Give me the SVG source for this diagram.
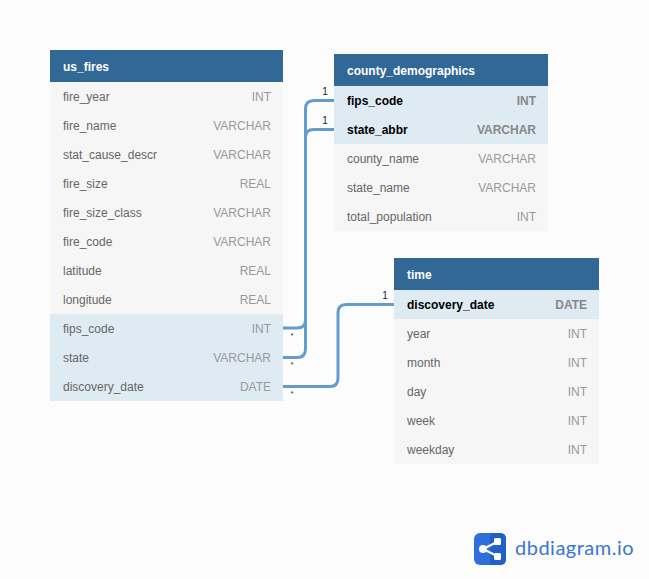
<svg xmlns="http://www.w3.org/2000/svg" width="649" height="579" viewBox="0 0 649 579">
<style>
text{font-family:"Liberation Sans",Arial,sans-serif;font-size:12px}
.hb{fill:#316896}.row{fill:#f6f6f6}.key{fill:#deebf3}
.h{fill:#fff;font-weight:700}
.n{fill:#666}.t{fill:#999;text-anchor:end}
.nk{fill:#000;font-weight:700}.tk{fill:#888;text-anchor:end;font-weight:700}
.c{fill:none;stroke:#629dcd;stroke-width:3}
.m{fill:#222;font-size:10px;text-anchor:middle}
.s{fill:#222;font-size:7px;text-anchor:middle}
</style>
<rect width="649" height="579" fill="#fcfcfd"/>
<g id="connectors">
<path class="c" d="M283 328H297Q305.500 328 305.500 320V109Q305.500 100.500 314 100.500H334"/>
<path class="c" d="M283 357.500H297Q305.500 357.500 305.500 349V137Q305.500 129.500 314 129.500H334"/>
<path class="c" d="M283 386.500H330Q338 386.500 338 378V313Q338 304.500 346 304.500H394"/>
<text class="m" x="325" y="95">1</text><text class="m" x="325" y="124">1</text><text class="m" x="385" y="299">1</text>
<text class="s" x="292" y="338">*</text><text class="s" x="292" y="367">*</text><text class="s" x="292" y="396">*</text>
</g>
<g id="us_fires">
<rect class="row" x="50" y="50" width="233" height="351"/>
<rect class="key" x="50" y="314" width="233" height="87"/>
<rect class="hb" x="50" y="50" width="233" height="32"/>
<text class="h" x="63" y="71">us_fires</text>
<text class="n" x="63" y="101">fire_year</text><text class="t" x="271" y="101">INT</text>
<text class="n" x="63" y="130">fire_name</text><text class="t" x="271" y="130">VARCHAR</text>
<text class="n" x="63" y="159">stat_cause_descr</text><text class="t" x="271" y="159">VARCHAR</text>
<text class="n" x="63" y="188">fire_size</text><text class="t" x="271" y="188">REAL</text>
<text class="n" x="63" y="217">fire_size_class</text><text class="t" x="271" y="217">VARCHAR</text>
<text class="n" x="63" y="246">fire_code</text><text class="t" x="271" y="246">VARCHAR</text>
<text class="n" x="63" y="275">latitude</text><text class="t" x="271" y="275">REAL</text>
<text class="n" x="63" y="304">longitude</text><text class="t" x="271" y="304">REAL</text>
<text class="n" x="63" y="333">fips_code</text><text class="t" x="271" y="333">INT</text>
<text class="n" x="63" y="362">state</text><text class="t" x="271" y="362">VARCHAR</text>
<text class="n" x="63" y="391">discovery_date</text><text class="t" x="271" y="391">DATE</text>
</g>
<g id="county_demographics">
<rect class="row" x="334" y="54" width="214" height="177"/>
<rect class="key" x="334" y="86" width="214" height="58"/>
<rect class="hb" x="334" y="54" width="214" height="32"/>
<text class="h" x="347" y="75">county_demographics</text>
<text class="nk" x="347" y="105">fips_code</text><text class="tk" x="536" y="105">INT</text>
<text class="nk" x="347" y="134">state_abbr</text><text class="tk" x="536" y="134">VARCHAR</text>
<text class="n" x="347" y="163">county_name</text><text class="t" x="536" y="163">VARCHAR</text>
<text class="n" x="347" y="192">state_name</text><text class="t" x="536" y="192">VARCHAR</text>
<text class="n" x="347" y="221">total_population</text><text class="t" x="536" y="221">INT</text>
</g>
<g id="time">
<rect class="row" x="394" y="258" width="205" height="206"/>
<rect class="key" x="394" y="290" width="205" height="29"/>
<rect class="hb" x="394" y="258" width="205" height="32"/>
<text class="h" x="407" y="279">time</text>
<text class="nk" x="407" y="309">discovery_date</text><text class="tk" x="587" y="309">DATE</text>
<text class="n" x="407" y="338">year</text><text class="t" x="587" y="338">INT</text>
<text class="n" x="407" y="367">month</text><text class="t" x="587" y="367">INT</text>
<text class="n" x="407" y="396">day</text><text class="t" x="587" y="396">INT</text>
<text class="n" x="407" y="425">week</text><text class="t" x="587" y="425">INT</text>
<text class="n" x="407" y="454">weekday</text><text class="t" x="587" y="454">INT</text>
</g>
<g id="logo">
<rect x="474" y="533" width="32" height="32" rx="6" fill="#2f6fdc"/>
<path d="M490 533H500Q506 533 506 539V559Q506 565 500 565H490Z" fill="#2261c4"/>
<path d="M483 549L498 541.500M483 549L498 556.500" stroke="#fff" stroke-width="2" fill="none"/>
<circle cx="483" cy="549" r="4" fill="#fff"/><rect x="494" y="538" width="7" height="7" rx="1.500" fill="#fff"/><rect x="494" y="553" width="7" height="7" rx="1.500" fill="#fff"/>
<text x="515" y="555" style="font-family:Lato,sans-serif;font-size:20px;letter-spacing:.5px" fill="#3a76d2">dbdiagram.io</text>
</g>
</svg>
